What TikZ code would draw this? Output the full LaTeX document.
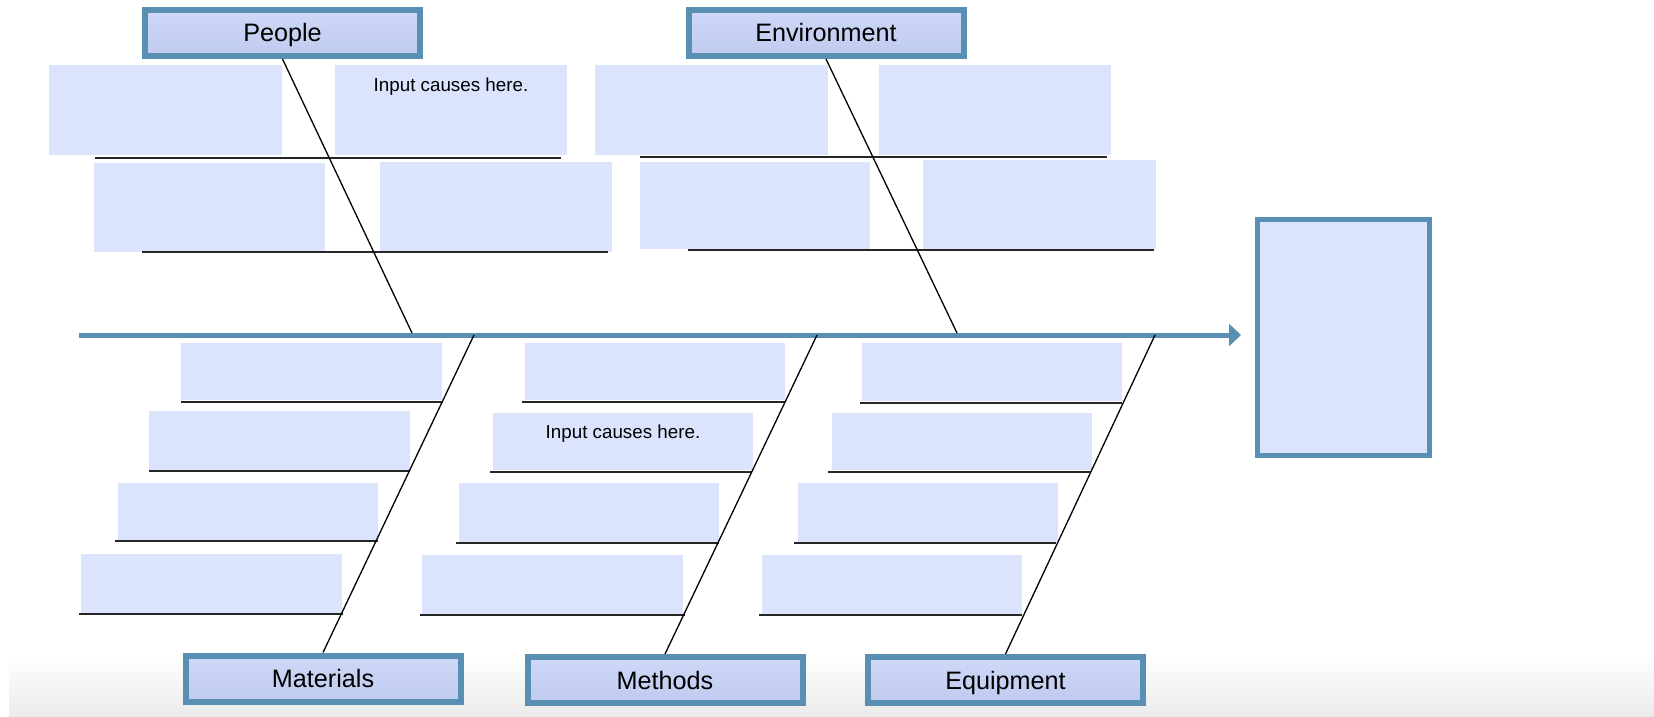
\documentclass[tikz,border=0pt]{standalone}
\usepackage{fontspec}
\setmainfont{Liberation Sans}
\usetikzlibrary{arrows.meta}
\definecolor{boxblue}{HTML}{5A8FB4}
\definecolor{catfill}{HTML}{C9D5F9}
\definecolor{causefill}{HTML}{DCE3FC}
\tikzset{
  catbox/.style={draw=boxblue,line width=3pt,top color=catfill!90!white,bottom color=catfill!95!black,
    minimum width=137.5pt,minimum height=23pt,inner sep=0pt,text height=9pt,text depth=0pt,
    font=\fontsize{12.6}{14}\selectfont},
  effectbox/.style={draw=boxblue,line width=2.5pt,fill=causefill,minimum width=86pt,minimum height=118pt},
  cause/.style={fill=causefill},
  note/.style={anchor=base,inner sep=0pt,font=\fontsize{9.4}{11}\selectfont},
  rib/.style={line width=1pt,black!85},
  bone/.style={line width=0.65pt,black},
  spine/.style={line width=2.5pt,boxblue,-{Triangle[length=6pt,width=11pt]}}
}
\begin{document}
\begin{tikzpicture}[x=0.5pt,y=-0.5pt]
\useasboundingbox (0,0) rectangle (1654,717);
\shade[top color=white,bottom color=black!8] (9,655) rectangle (1654,717);
% head and spine
\node[effectbox] (effect) at (1343.5,337.5) {};
\coordinate (tail) at (79,335);
\draw[spine,shorten >=7pt] (tail) -- (tail -| effect.west);
% category boxes
\node[catbox] (people) at (282.5,33) {People};
\node[catbox] (envir)  at (826,33) {Environment};
\node[catbox] (mater)  at (323,678.5) {Materials};
\node[catbox] (meth)   at (665,680) {Methods};
\node[catbox] (equip)  at (1005.5,680) {Equipment};
% people
\fill[cause] (49,65) rectangle (282,155);
\fill[cause] (335,65) rectangle (567,155);
\fill[cause] (94,163) rectangle (325,252);
\fill[cause] (380,162) rectangle (612,252);
\node[note] (pnote) at (451,91) {Input causes here.};
\draw[rib] (95,158) -- (561,158);
\draw[rib] (142,252) -- (608,252);
\coordinate (pend) at (412,333);
\draw[bone] (people.south) -- (pend);
% environment
\fill[cause] (595,65) rectangle (828,155);
\fill[cause] (879,65) rectangle (1111,155);
\fill[cause] (640,162) rectangle (870,249);
\fill[cause] (923,160) rectangle (1156,249);
\draw[rib] (640,157) -- (1107,157);
\draw[rib] (688,250) -- (1154,250);
\coordinate (eend) at (957,333);
\draw[bone] (envir.south) -- (eend);
% materials
\fill[cause] (181,343) rectangle (442,400);
\fill[cause] (149,411) rectangle (410,470);
\fill[cause] (118,483) rectangle (378,540);
\fill[cause] (81,554) rectangle (342,613);
\draw[rib] (181,402) -- (443,402);
\draw[rib] (149,471) -- (410,471);
\draw[rib] (115,541) -- (378,541);
\draw[rib] (79,614) -- (343,614);
\coordinate (mend) at (474,335);
\draw[bone] (mater.north) -- (mend);
% methods
\fill[cause] (525,343) rectangle (785,400);
\fill[cause] (493,413) rectangle (753,470);
\fill[cause] (459,483) rectangle (719,542);
\fill[cause] (422,555) rectangle (683,614);
\node[note] (mnote) at (623,438) {Input causes here.};
\draw[rib] (522,402) -- (785,402);
\draw[rib] (490,472) -- (752,472);
\draw[rib] (456,543) -- (719,543);
\draw[rib] (420,615) -- (685,615);
\coordinate (tend) at (817,335);
\draw[bone] (meth.north) -- (tend);
% equipment
\fill[cause] (862,343) rectangle (1122,401);
\fill[cause] (832,413) rectangle (1092,470);
\fill[cause] (798,483) rectangle (1058,542);
\fill[cause] (762,555) rectangle (1022,614);
\draw[rib] (860,403) -- (1122,403);
\draw[rib] (828,472) -- (1090,472);
\draw[rib] (794,543) -- (1056,543);
\draw[rib] (759,615) -- (1022,615);
\coordinate (qend) at (1155,335);
\draw[bone] (equip.north) -- (qend);
\end{tikzpicture}
\end{document}
